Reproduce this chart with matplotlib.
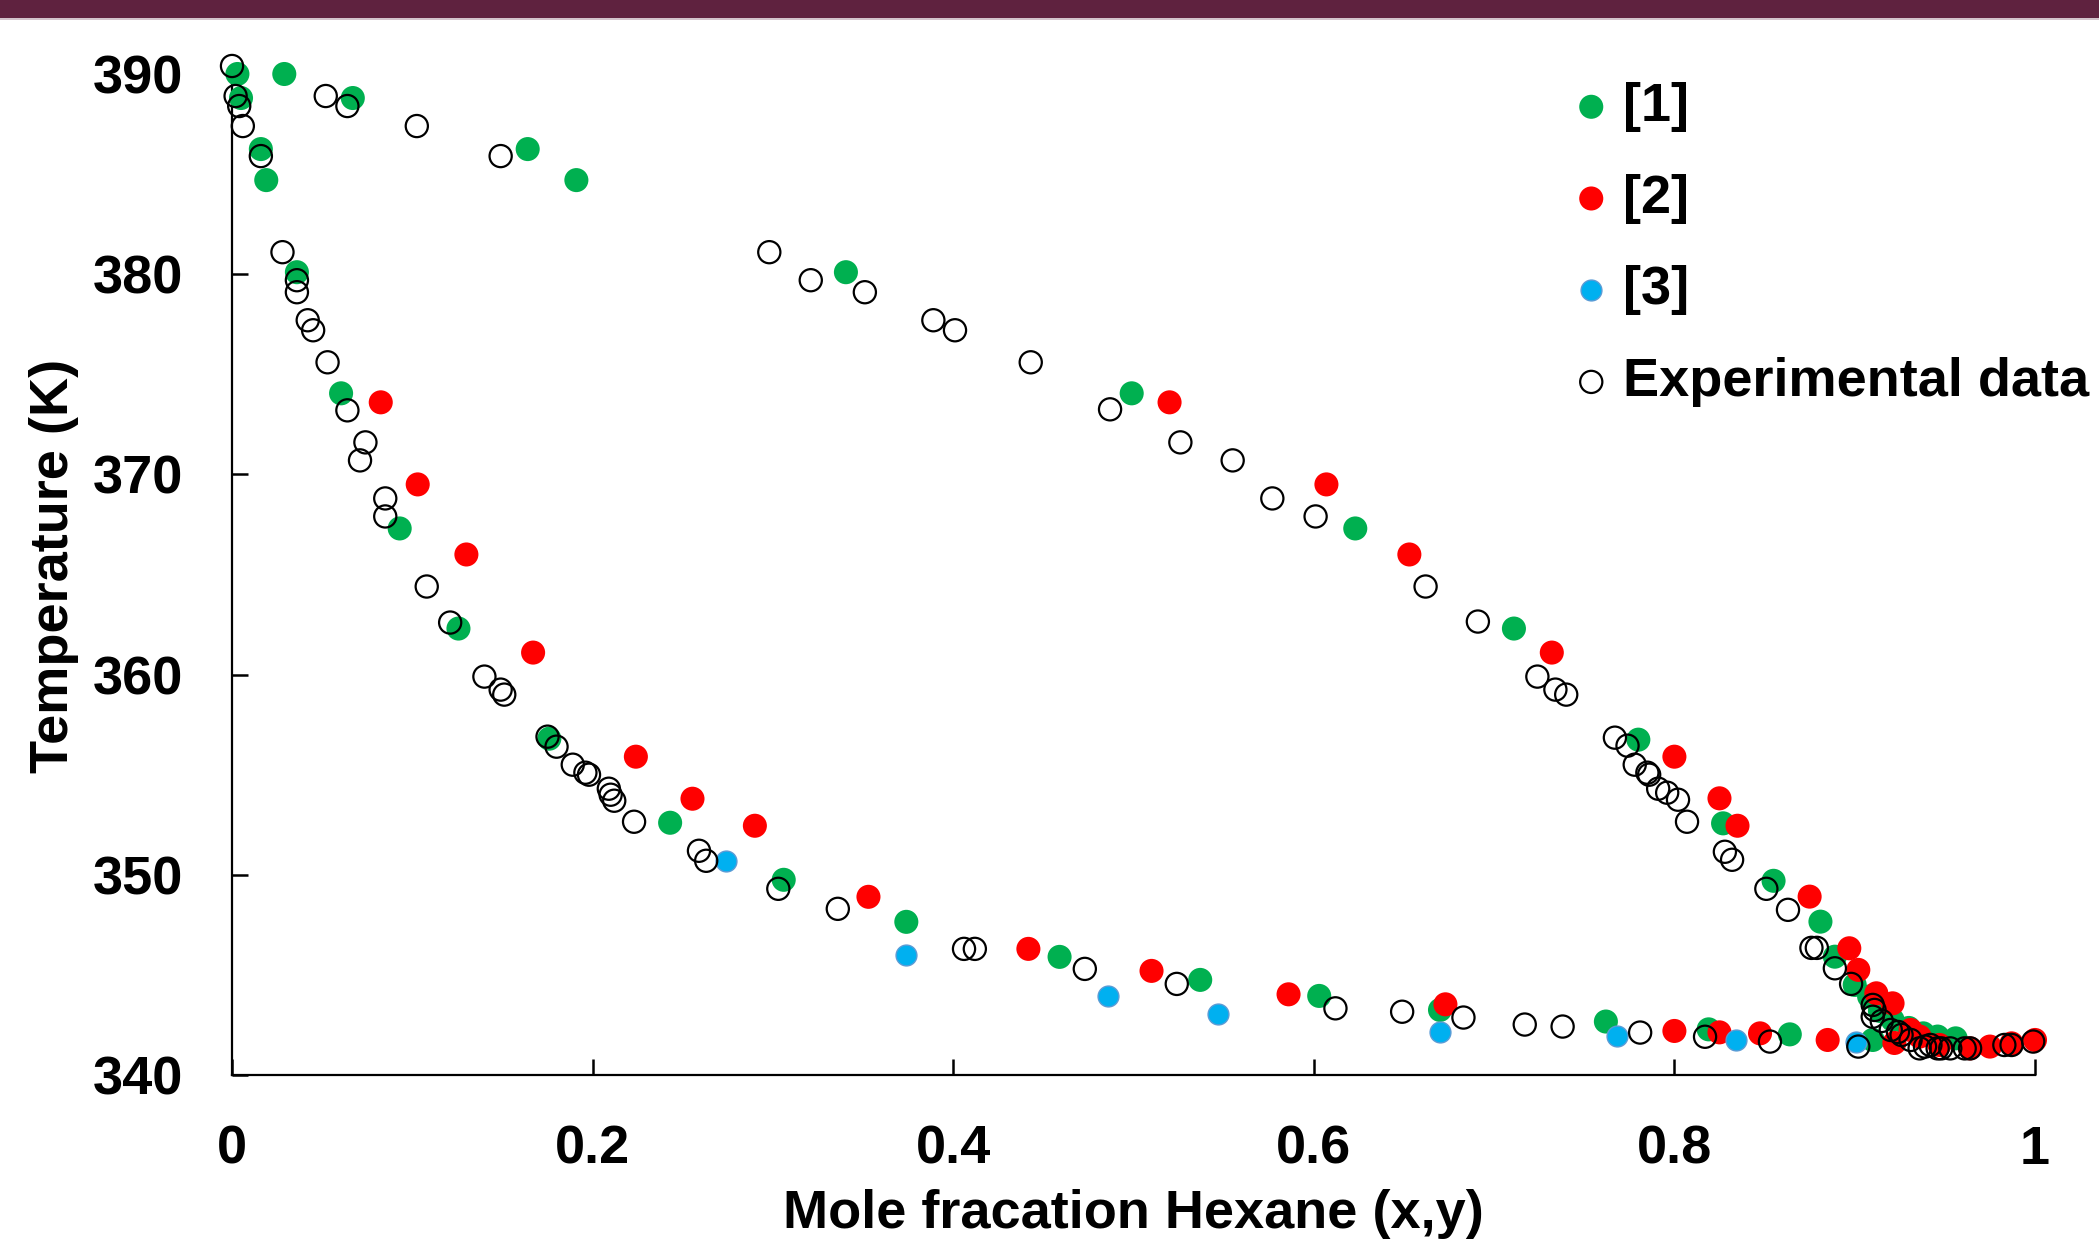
import matplotlib
matplotlib.use("Agg")
import matplotlib.pyplot as plt
from matplotlib.patches import Rectangle

plt.rcParams['font.family'] = ['Liberation Sans', 'DejaVu Sans']
plt.rcParams['font.weight'] = 'bold'

# ---------------- data ----------------
# Experimental data (open circles): liquid branch then vapour branch
exp_x = [0.000, 0.002, 0.004, 0.006, 0.016, 0.028, 0.036, 0.036, 0.042, 0.045,
         0.053, 0.064, 0.074, 0.071, 0.085, 0.085, 0.108, 0.121, 0.140, 0.149,
         0.151, 0.175, 0.180, 0.189, 0.196, 0.198, 0.209, 0.210, 0.212, 0.223,
         0.259, 0.263, 0.303, 0.336, 0.406, 0.412, 0.473, 0.524, 0.612, 0.649,
         0.683, 0.717, 0.738, 0.781, 0.817, 0.853, 0.902,
         0.052, 0.064, 0.1025, 0.149, 0.298, 0.321, 0.351, 0.389, 0.401, 0.443,
         0.487, 0.526, 0.555, 0.577, 0.601, 0.662, 0.691, 0.724, 0.734, 0.740,
         0.767, 0.774, 0.778, 0.785, 0.786, 0.791, 0.796, 0.802, 0.807, 0.828,
         0.832, 0.851, 0.863, 0.876, 0.879, 0.889, 0.898, 0.910, 0.911, 0.910,
         0.915, 0.920, 0.924, 0.926, 0.931, 0.936, 0.939, 0.942, 0.946, 0.948,
         0.953, 0.961, 0.964, 0.983, 0.987, 0.999]
exp_T = [390.4, 388.9, 388.4, 387.4, 385.9, 381.1, 379.7, 379.1, 377.7, 377.2,
         375.6, 373.2, 371.6, 370.7, 368.8, 367.9, 364.4, 362.6, 359.9, 359.25,
         359.0, 356.9, 356.4, 355.5, 355.1, 355.0, 354.3, 354.0, 353.7, 352.65,
         351.2, 350.7, 349.3, 348.3, 346.3, 346.3, 345.3, 344.55, 343.33, 343.16,
         342.87, 342.52, 342.42, 342.12, 341.91, 341.67, 341.42,
         388.9, 388.4, 387.4, 385.9, 381.1, 379.7, 379.1, 377.7, 377.2, 375.6,
         373.25, 371.6, 370.7, 368.8, 367.9, 364.4, 362.65, 359.9, 359.25, 359.0,
         356.85, 356.45, 355.5, 355.1, 355.0, 354.3, 354.1, 353.75, 352.65, 351.15,
         350.75, 349.3, 348.25, 346.35, 346.35, 345.33, 344.55, 343.5, 343.25, 342.91,
         342.7, 342.25, 342.15, 342.0, 341.75, 341.33, 341.42, 341.5, 341.33, 341.33,
         341.33, 341.33, 341.33, 341.5, 341.5, 341.67]

# [1] green
ref1_x = [0.003, 0.005, 0.016, 0.019, 0.036, 0.0605, 0.093, 0.1256, 0.176, 0.243,
          0.306, 0.374, 0.459, 0.537, 0.603, 0.670, 0.762, 0.819, 0.864, 0.910,
          0.029, 0.067, 0.164, 0.191, 0.3405, 0.499, 0.623, 0.711, 0.780, 0.827,
          0.855, 0.881, 0.889, 0.900, 0.908, 0.914, 0.921, 0.930, 0.938, 0.946, 0.956]
ref1_T = [390.0, 388.8, 386.25, 384.7, 380.1, 374.05, 367.3, 362.3, 356.8, 352.6,
          349.75, 347.65, 345.9, 344.75, 343.95, 343.25, 342.67, 342.28, 342.03, 341.75,
          390.0, 388.8, 386.25, 384.7, 380.1, 374.05, 367.3, 362.3, 356.75, 352.57,
          349.7, 347.66, 345.91, 344.5, 343.92, 343.2, 342.75, 342.35, 342.08, 341.92, 341.83]

# [2] red
ref2_x = [0.0825, 0.103, 0.130, 0.167, 0.224, 0.2554, 0.290, 0.353, 0.4417, 0.510,
          0.586, 0.673, 0.800, 0.825, 0.8475, 0.885, 0.922,
          0.520, 0.607, 0.653, 0.732, 0.800, 0.825, 0.835, 0.875, 0.897, 0.902,
          0.912, 0.921, 0.931, 0.936, 0.947, 0.964, 0.975, 0.987, 1.000]
ref2_T = [373.6, 369.5, 366.0, 361.1, 355.9, 353.8, 352.45, 348.9, 346.3, 345.2,
          344.03, 343.53, 342.2, 342.13, 342.08, 341.75, 341.6,
          373.6, 369.5, 366.0, 361.1, 355.9, 353.82, 352.45, 348.91, 346.33, 345.25,
          344.08, 343.58, 342.25, 341.92, 341.5, 341.33, 341.42, 341.58, 341.75]

# [3] blue
ref3_x = [0.274, 0.374, 0.486, 0.547, 0.670, 0.768, 0.834, 0.9005]
ref3_T = [350.7, 346.0, 343.95, 343.03, 342.13, 341.95, 341.75, 341.65]

x_ticks = [0, 0.2, 0.4, 0.6, 0.8, 1]
x_tick_labels = ['0', '0.2', '0.4', '0.6', '0.8', '1']
y_ticks = [340, 350, 360, 370, 380, 390]

# ---------------- figure ----------------
W, H = 2099, 1239
fig = plt.figure(figsize=(W / 100, H / 100), dpi=100)
fig.patch.set_facecolor('white')

# top maroon band
fig.add_artist(Rectangle((0, 1 - 18 / H), 1, 18 / H, transform=fig.transFigure,
                         facecolor='#5F223F', edgecolor='none'))
fig.add_artist(Rectangle((0, 1 - 20 / H), 1, 2 / H, transform=fig.transFigure,
                         facecolor='#D3C3CB', edgecolor='none'))

left, right = 232 / W, 2035 / W
bottom, top = 1 - 1075 / H, 1 - 74 / H
ax = fig.add_axes([left, bottom, right - left, top - bottom])

s_fill = 300
s_blue = 225
s_open = 255

ax.scatter(ref1_x, ref1_T, s=s_fill, color='#00B050', edgecolors='none',
           label='[1]', clip_on=False, zorder=3)
ax.scatter(ref2_x, ref2_T, s=s_fill, color='#FF0000', edgecolors='none',
           label='[2]', clip_on=False, zorder=4)
ax.scatter(ref3_x, ref3_T, s=s_blue, color='#00B0F0', edgecolors='#5B9BD5',
           linewidths=1.0, label='[3]', clip_on=False, zorder=5)
ax.scatter(exp_x, exp_T, s=s_open, facecolors='none', edgecolors='black',
           linewidths=1.6, label='Experimental data', clip_on=False, zorder=6)

ax.set_xlim(0, 1)
ax.set_ylim(340, 390)
ax.set_xticks(x_ticks)
ax.set_xticklabels(x_tick_labels)
ax.set_yticks(y_ticks)

for side in ('top', 'right'):
    ax.spines[side].set_visible(False)
for side in ('left', 'bottom'):
    ax.spines[side].set_linewidth(1.6)

ax.tick_params(axis='both', direction='in', length=11.5, width=1.8,
               labelsize=39)
ax.tick_params(axis='y', pad=35)
ax.tick_params(axis='x', pad=36)

ax.set_xlabel('Mole fracation Hexane (x,y)', fontsize=39, fontweight='bold')
ax.xaxis.set_label_coords(0.5, (1075 - 1189) / 1001)
ax.set_ylabel('Temperature (K)', fontsize=39, fontweight='bold')
ax.yaxis.set_label_coords((54 - 232) / 1803, (1075 - 566) / 1001)
ax.yaxis.label.set_verticalalignment('center')

leg = ax.legend(loc='upper left', bbox_to_anchor=(1575 / W, 1 - 82 / H),
                bbox_transform=fig.transFigure, frameon=False,
                prop={'weight': 'bold', 'size': 39},
                scatterpoints=1, handlelength=0.6, handletextpad=0.28,
                labelspacing=0.77, borderpad=0, borderaxespad=0)

fig.savefig('out.png', dpi=100)
